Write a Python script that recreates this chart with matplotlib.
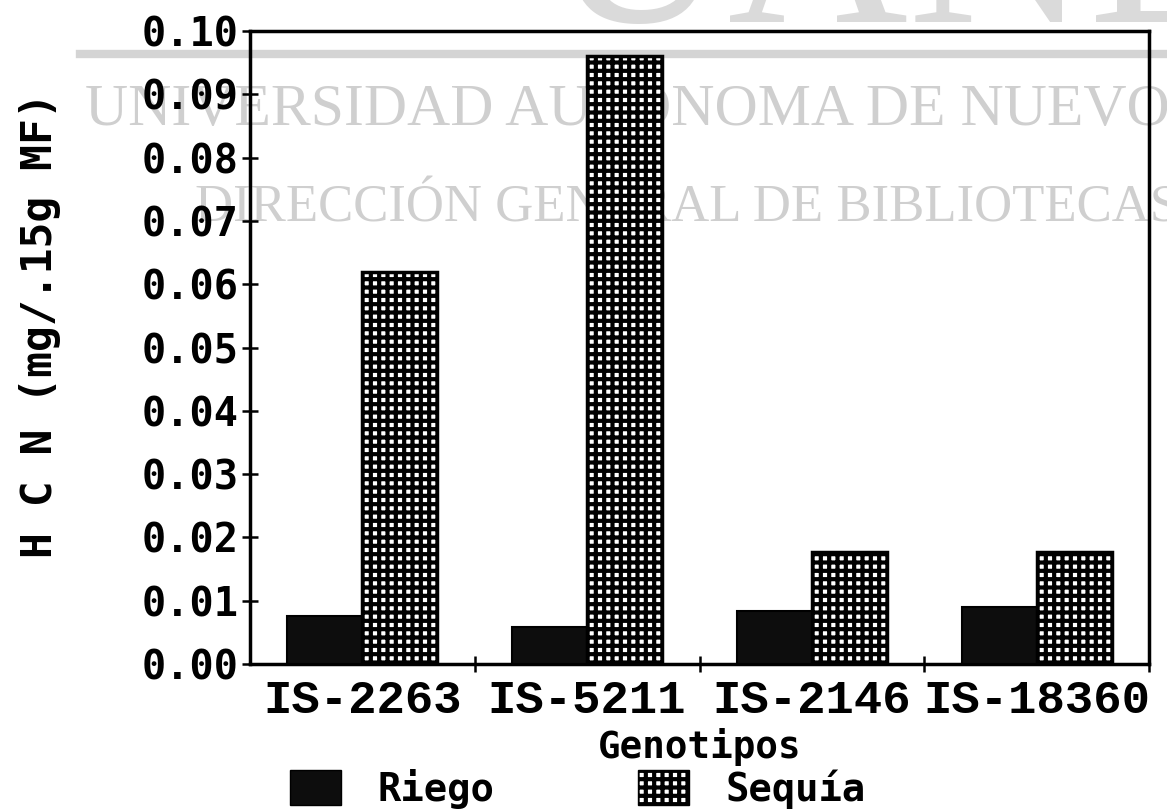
import matplotlib
matplotlib.use("Agg")
import matplotlib.pyplot as plt
from matplotlib.patches import Patch
from matplotlib.lines import Line2D
import numpy as np

# data
genotipos = ["IS-2263", "IS-5211", "IS-2146", "IS-18360"]
riego = [0.0076, 0.0059, 0.0084, 0.0090]
sequia = [0.0620, 0.0960, 0.0177, 0.0177]
y_ticks = [0.00, 0.01, 0.02, 0.03, 0.04, 0.05, 0.06, 0.07, 0.08, 0.09, 0.10]

plt.rcParams['hatch.linewidth'] = 3.0

W, H = 1167, 810
fig = plt.figure(figsize=(W / 100, H / 100), dpi=100)
fig.patch.set_facecolor("white")

# --- library watermark, sits behind the chart ---
wm = "#cfcfcf"
fig.text(548 / W, 1 - 22 / H, "UANL", fontsize=180, family="Liberation Serif",
         color="#dadada", ha="left", va="baseline", zorder=-5)
fig.add_artist(Line2D([80 / W, 1.0], [1 - 54 / H, 1 - 54 / H],
                      transform=fig.transFigure, color="#d4d4d4", lw=6, zorder=-4))
fig.text(85 / W, 1 - 125 / H, "UNIVERSIDAD AUTÓNOMA DE NUEVO LEÓN", fontsize=43,
         family="Liberation Serif", color=wm, ha="left", va="baseline", zorder=-4)
fig.text(195 / W, 1 - 222 / H, "DIRECCIÓN GENERAL DE BIBLIOTECAS", fontsize=38,
         family="Liberation Serif", color=wm, ha="left", va="baseline", zorder=-4)

ax = fig.add_axes([250 / W, 1 - 664 / H, (1149 - 250) / W, (664 - 31) / H])
ax.patch.set_visible(False)

x = np.arange(len(genotipos)) + 0.5
w = 1 / 3
ax.bar(x - w / 2, riego, width=w, color="#0d0d0d", edgecolor="black", lw=1.5, zorder=3)
ax.bar(x + w / 2, sequia, width=w, color="white", edgecolor="black", hatch="++",
       lw=0, zorder=3)
ax.bar(x + w / 2, sequia, width=w, fill=False, edgecolor="black", lw=2.5, zorder=4)

ax.set_xlim(0, 4)
ax.set_ylim(0, 0.10)

ax.set_yticks(y_ticks)
ax.set_yticklabels(["%.2f" % v for v in y_ticks])
ax.set_xticks([1, 2, 3, 4])
ax.set_xticklabels([])
ax.set_xticks(x, minor=True)
ax.set_xticklabels(genotipos, minor=True)

ax.tick_params(axis="y", direction="inout", length=12, width=1.8, pad=2,
               labelsize=29)
ax.tick_params(axis="x", which="major", direction="inout", length=12, width=1.8)
ax.tick_params(axis="x", which="minor", length=0, pad=11, labelsize=34)
for lab in ax.get_yticklabels():
    lab.set_family("DejaVu Sans Mono")
    lab.set_fontweight("bold")
for lab in ax.get_xticklabels(minor=True):
    lab.set_family("Liberation Mono")
    lab.set_fontweight("bold")

for s in ax.spines.values():
    s.set_linewidth(2.5)

fig.text(40 / W, 1 - 325 / H, "H C N (mg/.15g MF)", rotation=90, fontsize=31,
         family="DejaVu Sans Mono", fontweight="bold", ha="center", va="center")
fig.text(700 / W, 1 - 747 / H, "Genotipos", fontsize=27,
         family="DejaVu Sans Mono", fontweight="bold", ha="center", va="center")

handles = [Patch(facecolor="#0d0d0d", edgecolor="black"),
           Patch(facecolor="white", edgecolor="black", hatch="++")]
fig.legend(handles, ["Riego", "Sequía"], loc="center left",
           bbox_to_anchor=(290 / W, 1 - 789 / H),
           ncol=2, frameon=False, handlelength=1.3, handleheight=1.0, handletextpad=0.95,
           columnspacing=3.7, prop={"family": "DejaVu Sans Mono", "weight": "bold", "size": 28},
           borderpad=0, borderaxespad=0)

fig.savefig("out.png", dpi=100)
